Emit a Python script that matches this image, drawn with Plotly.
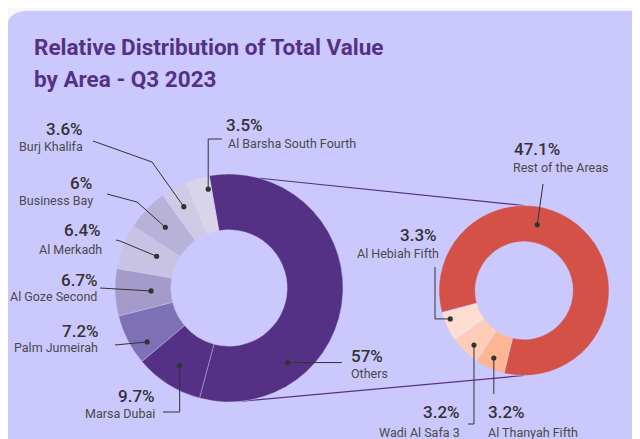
import math
import plotly.graph_objects as go

W, H = 640, 439
OFF = 8  # page body margin of the browser

# ---------------- data ----------------
left_labels = ["Others", "Marsa Dubai", "Palm Jumeirah", "Al Goze Second",
               "Al Merkadh", "Business Bay", "Burj Khalifa", "Al Barsha South Fourth"]
left_values = [57, 9.7, 7.2, 6.7, 6.4, 6, 3.6, 3.5]

right_labels = ["Rest of the Areas", "Al Thanyah Fifth", "Wadi Al Safa 3", "Al Hebiah Fifth"]
right_values = [47.1, 3.2, 3.2, 3.3]

title_lines = ["Relative Distribution of Total Value", "by Area - Q3 2023"]

# ---------------- style ----------------
left_colors = ["#553185", "#553185", "#7E70B5", "#A49BCA",
               "#C8C3E3", "#B8B1D8", "#CFCAE5", "#D9D4EA"]
right_colors = ["#D45148", "#FDB593", "#FFCDB7", "#FFDDD0"]
CARD = "#CBC8FE"
PURPLE = "#553185"
DARK = "#333333"
GREY = "#4A4A4A"
FONT = "Roboto"

LP = dict(cx=229, cy=288, r=114, hole=0.51, rot=-10)
RP = dict(cx=524, cy=290.5, r=85, hole=0.575, rot=-105)

# label layout per slice: frac along slice, radius of dot, elbow path, pct pos, name pos, anchor
left_layout = {
    "Others": dict(frac=0.74, rad=95, path=[(342, None)], pct=(349, 356), name=(349, 373.5), anchor="left"),
    "Marsa Dubai": dict(frac=0.5, rad=92, path=[(None, 412), (163, 412)], pct=(157, 396), name=(157, 413), anchor="right"),
    "Palm Jumeirah": dict(frac=0.26, rad=98, path=[(115, 345)], pct=(101, 330.5), name=(100, 347), anchor="right"),
    "Al Goze Second": dict(frac=0.5, rad=78, path=[(100, 288)], pct=(100, 279.5), name=(99, 296.5), anchor="right"),
    "Al Merkadh": dict(frac=0.6, rad=79, path=[(120, 241), (116, 240)], pct=(103, 230), name=(104, 249.5), anchor="right"),
    "Business Bay": dict(frac=0.5, rad=88, path=[(137, 202), (107, 194)], pct=(94, 182.5), name=(95, 200), anchor="right"),
    "Burj Khalifa": dict(frac=0.5, rad=93, path=[(152, 162), (93, 141)], pct=(85, 128.5), name=(85, 146), anchor="right"),
    "Al Barsha South Fourth": dict(frac=0.85, rad=101, path=[(None, 139), (222, 139)], pct=(224, 124.5), name=(226, 143), anchor="left"),
}
right_layout = {
    "Rest of the Areas": dict(frac=0.39, rad=67, path=[(543, 184)], pct=(512, 149), name=(511, 167.5), anchor="left"),
    "Al Thanyah Fifth": dict(frac=0.52, rad=74, path=[(None, 394)], pct=(485.7, 412), name=(485.7, 432.5), anchor="left"),
    "Wadi Al Safa 3": dict(frac=0.43, rad=74, path=[(None, 424), (468, 424)], pct=(462, 412), name=(462, 432.5), anchor="right"),
    "Al Hebiah Fifth": dict(frac=0.71, rad=79, path=[(435, None), (435, 267)], pct=(439, 234.5), name=(441, 253.5), anchor="right"),
}


def px(x):
    return (x - OFF) / W


def py(y):
    return 1 - (y - OFF) / H


def slice_angles(values, rot):
    tot = sum(values)
    out = []
    a = rot
    for v in values:
        span = v / tot * 360.0
        out.append((a, a + span))
        a += span
    return out


def polar(p, ang, rad):
    t = math.radians(ang)
    return p["cx"] + rad * math.sin(t), p["cy"] - rad * math.cos(t)


def pie_domain(p):
    return dict(x=[px(p["cx"] - p["r"]), px(p["cx"] + p["r"])],
                y=[py(p["cy"] + p["r"]), py(p["cy"] - p["r"])])


fig = go.Figure()
fig.add_trace(go.Pie(
    labels=left_labels, values=left_values, sort=False, direction="clockwise",
    rotation=LP["rot"], hole=LP["hole"], domain=pie_domain(LP),
    marker=dict(colors=left_colors, line=dict(color="rgba(203,200,254,0.5)", width=0.8)),
    textinfo="none", hoverinfo="label+percent", showlegend=False))
fig.add_trace(go.Pie(
    labels=right_labels, values=right_values, sort=False, direction="clockwise",
    rotation=RP["rot"], hole=RP["hole"], domain=pie_domain(RP),
    marker=dict(colors=right_colors, line=dict(color="rgba(203,200,254,0.5)", width=0.8)),
    textinfo="none", hoverinfo="label+percent", showlegend=False))

shapes = []


def rounded_rect(x0, y0, x1, y1, r):
    pts = [
        f"M {px(x0 + r)} {py(y0)}",
        f"L {px(x1 - r)} {py(y0)}",
        f"Q {px(x1)} {py(y0)} {px(x1)} {py(y0 + r)}",
        f"L {px(x1)} {py(y1 - r)}",
        f"Q {px(x1)} {py(y1)} {px(x1 - r)} {py(y1)}",
        f"L {px(x0 + r)} {py(y1)}",
        f"Q {px(x0)} {py(y1)} {px(x0)} {py(y1 - r)}",
        f"L {px(x0)} {py(y0 + r)}",
        f"Q {px(x0)} {py(y0)} {px(x0 + r)} {py(y0)}",
        "Z",
    ]
    return " ".join(pts)


shapes.append(dict(type="path", xref="paper", yref="paper", layer="below",
                   path=rounded_rect(6, 10.7, 650, 455, 22),
                   fillcolor=CARD, line=dict(width=0)))

# connector lines between the two donuts
for la, ra in [(15.7, 0), (173.5, 180)]:
    x0, y0 = polar(LP, la, LP["r"])
    x1, y1 = polar(RP, ra, RP["r"])
    shapes.append(dict(type="line", xref="paper", yref="paper", layer="below",
                       x0=px(x0), y0=py(y0), x1=px(x1), y1=py(y1),
                       line=dict(color=PURPLE, width=1.2)))

annotations = []

for i, line in enumerate(title_lines):
    annotations.append(dict(text=f"<b>{line}</b>", x=px(32), y=py([47.5, 79][i]),
                            xref="paper", yref="paper", xanchor="left", yanchor="middle",
                            showarrow=False, font=dict(family=FONT, size=22.5, color=PURPLE)))


def add_labels(p, labels, values, layout):
    angs = slice_angles(values, p["rot"])
    for lab, val, (a0, a1) in zip(labels, values, angs):
        spec = layout[lab]
        ang = a0 + spec["frac"] * (a1 - a0)
        dx, dy = polar(p, ang, spec["rad"])
        pts = [(dx, dy)]
        for ex, ey in spec["path"]:
            pts.append((dx if ex is None else ex, dy if ey is None else ey))
        path = "M " + " L ".join(f"{px(x)} {py(y)}" for x, y in pts)
        shapes.append(dict(type="path", xref="paper", yref="paper", layer="above",
                           path=path, line=dict(color=DARK, width=1)))
        rr = 2.6
        shapes.append(dict(type="circle", xref="paper", yref="paper", layer="above",
                           x0=px(dx - rr), x1=px(dx + rr), y0=py(dy + rr), y1=py(dy - rr),
                           fillcolor=DARK, line=dict(width=0)))
        annotations.append(dict(text=f"{val:g}%", x=px(spec["pct"][0]), y=py(spec["pct"][1]),
                                xref="paper", yref="paper", xanchor=spec["anchor"], yanchor="middle",
                                showarrow=False,
                                font=dict(family=FONT, size=17, color=DARK, weight=500)))
        annotations.append(dict(text=lab, x=px(spec["name"][0]), y=py(spec["name"][1]),
                                xref="paper", yref="paper", xanchor=spec["anchor"], yanchor="middle",
                                showarrow=False,
                                font=dict(family=FONT, size=12.5, color=GREY)))


add_labels(LP, left_labels, left_values, left_layout)
add_labels(RP, right_labels, right_values, right_layout)

fig.update_layout(width=W, height=H, margin=dict(l=0, r=0, t=0, b=0),
                  paper_bgcolor="#F8F8F9", plot_bgcolor="rgba(0,0,0,0)",
                  shapes=shapes, annotations=annotations, showlegend=False)

fig.write_html("out.html")
